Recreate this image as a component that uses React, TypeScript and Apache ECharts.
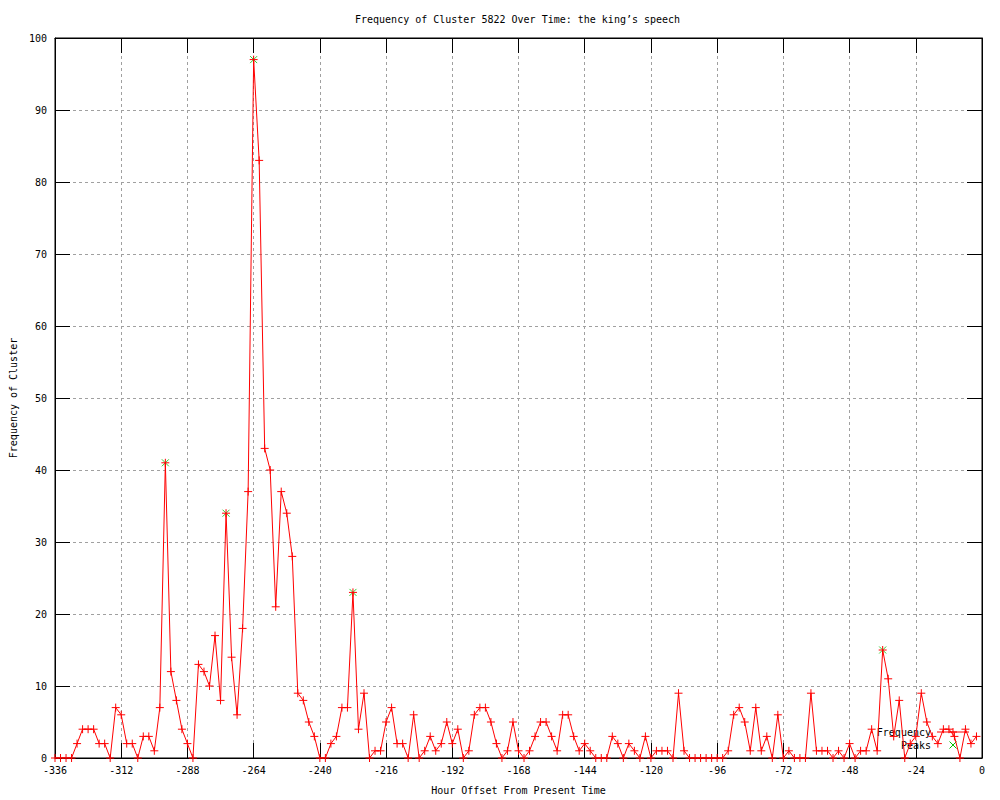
import React, { useEffect, useRef } from "react";
import * as echarts from "echarts";

const titleText = "Frequency of Cluster 5822 Over Time: the king\u2019s speech";
const xAxisName = "Hour Offset From Present Time";
const yAxisName = "Frequency of Cluster";
const legendNames = ["Frequency", "Peaks"];

// hourly offsets start at -336 and step by 2 hours
const startHour = -336;
const stepHours = 2;

const frequencyValues = [
  0, 0, 0, 0, 2, 4, 4, 4, 2, 2,
  0, 7, 6, 2, 2, 0, 3, 3, 1, 7,
  41, 12, 8, 4, 2, 0, 13, 12, 10, 17,
  8, 34, 14, 6, 18, 37, 97, 83, 43, 40,
  21, 37, 34, 28, 9, 8, 5, 3, 0, 0,
  2, 3, 7, 7, 23, 4, 9, 0, 1, 1,
  5, 7, 2, 2, 0, 6, 0, 1, 3, 1,
  2, 5, 2, 4, 0, 1, 6, 7, 7, 5,
  2, 0, 1, 5, 1, 0, 1, 3, 5, 5,
  3, 1, 6, 6, 3, 1, 2, 1, 0, 0,
  0, 3, 2, 0, 2, 1, 0, 3, 0, 1,
  1, 1, 0, 9, 1, 0, 0, 0, 0, 0,
  0, 0, 1, 6, 7, 5, 1, 7, 1, 3,
  0, 6, 0, 1, 0, 0, 0, 9, 1, 1,
  1, 0, 1, 0, 2, 0, 1, 1, 4, 1,
  15, 11, 3, 8, 0, 2, 3, 9, 5, 3,
  2, 4, 4, 3, 0, 4, 2, 3,
];

const peakHours = [-296, -274, -264, -228, -36];
const peakValues = [41, 34, 97, 23, 15];

const xTickInterval = 24;
const yTickInterval = 10;

const FONT = "'DejaVu Sans Mono', monospace";
const PLUS = "path://M0,-1L0,1M-1,0L1,0";
const CROSS = "path://M-1,-1L1,1M-1,1L1,-1";
const RED = "#ff0000";
const GREEN = "#00c000";

export default function App() {
  const ref = useRef<HTMLDivElement>(null);

  useEffect(() => {
    if (!ref.current) return;
    const chart = echarts.init(ref.current, null, { renderer: "svg" });

    const freqData = frequencyValues.map((v, i) => [startHour + i * stepHours, v]);
    const peakData = peakHours.map((h, i) => [h, peakValues[i]]);

    const axisLine = { show: true, onZero: false, lineStyle: { color: "#000", width: 1 } };
    const axisTick = { show: true, inside: true, length: 15, lineStyle: { color: "#000" } };
    const textStyle = { fontFamily: FONT, fontSize: 10, fill: "#000" };

    const legendX = 931;
    const sampleL = 937;
    const sampleR = 969;
    const sampleMid = 953;
    const row1 = 732;
    const row2 = 745;

    chart.setOption({
      animation: false,
      backgroundColor: "#fff",
      title: {
        text: titleText,
        left: 355,
        top: 13,
        padding: 0,
        textStyle: { fontFamily: FONT, fontSize: 10, fontWeight: "normal", color: "#000", lineHeight: 12 },
      },
      grid: {
        left: 55,
        right: 18,
        top: 38,
        bottom: 39,
        show: true,
        borderColor: "#000",
        borderWidth: 1,
        backgroundColor: "transparent",
      },
      xAxis: [
        {
          type: "value",
          min: -336,
          max: 0,
          interval: xTickInterval,
          position: "bottom",
          axisLine,
          axisTick,
          axisLabel: { fontFamily: FONT, fontSize: 10, color: "#000", margin: 7 },
          splitLine: { show: true, lineStyle: { color: "#a0a0a0", type: [3, 3], width: 1 } },
          name: xAxisName,
          nameLocation: "middle",
          nameGap: 27,
          nameTextStyle: { fontFamily: FONT, fontSize: 10, color: "#000" },
        },
        {
          type: "value",
          min: -336,
          max: 0,
          interval: xTickInterval,
          position: "top",
          axisLine,
          axisTick,
          axisLabel: { show: false },
          splitLine: { show: false },
        },
      ],
      yAxis: [
        {
          type: "value",
          min: 0,
          max: 100,
          interval: yTickInterval,
          position: "left",
          axisLine,
          axisTick,
          axisLabel: { fontFamily: FONT, fontSize: 10, color: "#000", margin: 8 },
          splitLine: { show: true, lineStyle: { color: "#a0a0a0", type: [3, 3], width: 1 } },
          name: yAxisName,
          nameLocation: "middle",
          nameRotate: 90,
          nameGap: 37,
          nameTextStyle: { fontFamily: FONT, fontSize: 10, color: "#000" },
        },
        {
          type: "value",
          min: 0,
          max: 100,
          interval: yTickInterval,
          position: "right",
          axisLine,
          axisTick,
          axisLabel: { show: false },
          splitLine: { show: false },
        },
      ],
      graphic: [
        {
          type: "group",
          silent: true,
          z: 100,
          children: [
            {
              type: "text",
              x: legendX,
              y: row1,
              style: { ...textStyle, text: legendNames[0], textAlign: "right", textVerticalAlign: "middle" },
            },
            {
              type: "line",
              shape: { x1: sampleL, y1: row1, x2: sampleR, y2: row1 },
              style: { stroke: RED, lineWidth: 1 },
            },
            {
              type: "line",
              shape: { x1: sampleMid - 4, y1: row1, x2: sampleMid + 4, y2: row1 },
              style: { stroke: RED, lineWidth: 1 },
            },
            {
              type: "line",
              shape: { x1: sampleMid, y1: row1 - 4, x2: sampleMid, y2: row1 + 4 },
              style: { stroke: RED, lineWidth: 1 },
            },
            {
              type: "text",
              x: legendX,
              y: row2,
              style: { ...textStyle, text: legendNames[1], textAlign: "right", textVerticalAlign: "middle" },
            },
            {
              type: "line",
              shape: { x1: sampleMid - 3.5, y1: row2 - 3.5, x2: sampleMid + 3.5, y2: row2 + 3.5 },
              style: { stroke: GREEN, lineWidth: 1 },
            },
            {
              type: "line",
              shape: { x1: sampleMid - 3.5, y1: row2 + 3.5, x2: sampleMid + 3.5, y2: row2 - 3.5 },
              style: { stroke: GREEN, lineWidth: 1 },
            },
          ],
        },
      ],
      series: [
        {
          name: legendNames[0],
          type: "line",
          xAxisIndex: 0,
          yAxisIndex: 0,
          data: freqData,
          symbol: PLUS,
          symbolSize: 8,
          showSymbol: true,
          showAllSymbol: true,
          lineStyle: { color: RED, width: 1 },
          itemStyle: { color: RED, borderColor: RED, borderWidth: 1 },
          emphasis: { disabled: true },
          silent: true,
          z: 3,
        },
        {
          name: legendNames[1],
          type: "scatter",
          xAxisIndex: 0,
          yAxisIndex: 0,
          data: peakData,
          symbol: CROSS,
          symbolSize: 7,
          itemStyle: { color: GREEN, borderColor: GREEN, borderWidth: 1 },
          emphasis: { disabled: true },
          silent: true,
          z: 2,
        },
      ],
    });

    return () => chart.dispose();
  }, []);

  return (
    <div
      ref={ref}
      style={{ position: "fixed", left: 0, top: 0, width: 1000, height: 800, background: "#fff" }}
    />
  );
}
